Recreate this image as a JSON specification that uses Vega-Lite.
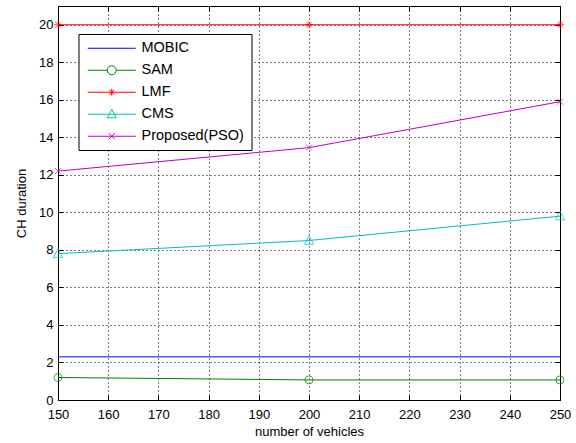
{
  "$schema": "https://vega.github.io/schema/vega-lite/v6.json",
  "width": 502,
  "height": 394,
  "autosize": {"type": "none"},
  "padding": {"left": 58, "top": 6, "right": 16, "bottom": 43},
  "background": "white",
  "config": {
    "view": {"stroke": "black", "strokeWidth": 1},
    "font": "Liberation Sans",
    "axis": {
      "labelFont": "Liberation Sans",
      "titleFont": "Liberation Sans",
      "labelFontSize": 13,
      "titleFontSize": 13,
      "labelColor": "black",
      "titleColor": "black",
      "titleFontWeight": "normal",
      "domainColor": "black",
      "tickColor": "black",
      "gridColor": "black",
      "gridDash": [1, 3],
      "gridOpacity": 1,
      "gridWidth": 1
    },
    "legend": {
      "labelFont": "Liberation Sans",
      "labelFontSize": 14.5,
      "labelColor": "black",
      "labelLimit": 300
    }
  },
  "data": {
    "values": [
      {"series": "MOBIC", "x": 150, "y": 2.3},
      {"series": "MOBIC", "x": 200, "y": 2.3},
      {"series": "MOBIC", "x": 250, "y": 2.3},
      {"series": "SAM", "x": 150, "y": 1.2},
      {"series": "SAM", "x": 200, "y": 1.07},
      {"series": "SAM", "x": 250, "y": 1.07},
      {"series": "LMF", "x": 150, "y": 20},
      {"series": "LMF", "x": 200, "y": 20},
      {"series": "LMF", "x": 250, "y": 20},
      {"series": "CMS", "x": 150, "y": 7.8},
      {"series": "CMS", "x": 200, "y": 8.5},
      {"series": "CMS", "x": 250, "y": 9.8},
      {"series": "Proposed(PSO)", "x": 150, "y": 12.2},
      {"series": "Proposed(PSO)", "x": 200, "y": 13.45},
      {"series": "Proposed(PSO)", "x": 250, "y": 15.9}
    ]
  },
  "resolve": {"axis": {"x": "independent", "y": "independent"}},
  "layer": [
    {
      "transform": [{"filter": "datum.series === 'MOBIC'"}],
      "mark": {"type": "line", "strokeWidth": 1, "stroke": "#0000ff"},
      "encoding": {
        "x": {
          "field": "x", "type": "quantitative",
          "scale": {"domain": [150, 250], "nice": false, "zero": false},
          "axis": {
            "orient": "bottom",
            "title": "number of vehicles",
            "values": [150, 160, 170, 180, 190, 200, 210, 220, 230, 240, 250],
            "tickSize": -5,
            "labelPadding": 13,
            "titlePadding": 4,
            "grid": true,
            "labelFlush": false
          }
        },
        "y": {
          "field": "y", "type": "quantitative",
          "scale": {"domain": [0, 21], "nice": false, "zero": true},
          "axis": {
            "orient": "left",
            "title": "CH duration",
            "values": [0, 2, 4, 6, 8, 10, 12, 14, 16, 18, 20],
            "tickSize": -5,
            "labelPadding": 10,
            "titlePadding": 10,
            "grid": true
          }
        },
        "order": {"field": "x", "type": "quantitative"}
      }
    },
    {
      "transform": [{"filter": "datum.series === 'SAM'"}],
      "mark": {"type": "line", "strokeWidth": 1, "stroke": "#008000"},
      "encoding": {
        "x": {"field": "x", "type": "quantitative", "axis": {"orient": "top", "labels": false, "title": null, "grid": false, "tickSize": -5, "values": [150, 160, 170, 180, 190, 200, 210, 220, 230, 240, 250]}},
        "y": {"field": "y", "type": "quantitative", "axis": {"orient": "right", "labels": false, "title": null, "grid": false, "tickSize": -5, "values": [0, 2, 4, 6, 8, 10, 12, 14, 16, 18, 20]}},
        "order": {"field": "x", "type": "quantitative"}
      }
    },
    {
      "transform": [{"filter": "datum.series === 'LMF'"}],
      "mark": {"type": "line", "strokeWidth": 1, "stroke": "#ff0000"},
      "encoding": {
        "x": {"field": "x", "type": "quantitative", "axis": null},
        "y": {"field": "y", "type": "quantitative", "axis": null},
        "order": {"field": "x", "type": "quantitative"}
      }
    },
    {
      "transform": [{"filter": "datum.series === 'CMS'"}],
      "mark": {"type": "line", "strokeWidth": 1, "stroke": "#00bfbf"},
      "encoding": {
        "x": {"field": "x", "type": "quantitative", "axis": null},
        "y": {"field": "y", "type": "quantitative", "axis": null},
        "order": {"field": "x", "type": "quantitative"}
      }
    },
    {
      "transform": [{"filter": "datum.series === 'Proposed(PSO)'"}],
      "mark": {"type": "line", "strokeWidth": 1, "stroke": "#bf00bf"},
      "encoding": {
        "x": {"field": "x", "type": "quantitative", "axis": null},
        "y": {"field": "y", "type": "quantitative", "axis": null},
        "order": {"field": "x", "type": "quantitative"}
      }
    },
    {
      "transform": [{"filter": "datum.series === 'SAM'"}],
      "mark": {"type": "point", "shape": "circle", "filled": false, "size": 64, "stroke": "#008000", "strokeWidth": 1},
      "encoding": {
        "x": {"field": "x", "type": "quantitative", "axis": null},
        "y": {"field": "y", "type": "quantitative", "axis": null}
      }
    },
    {
      "transform": [{"filter": "datum.series === 'LMF'"}],
      "mark": {"type": "point", "shape": "M0,-1V1M-1,0H1M-0.7,-0.7L0.7,0.7M-0.7,0.7L0.7,-0.7", "filled": false, "size": 64, "stroke": "#ff0000", "strokeWidth": 1},
      "encoding": {
        "x": {"field": "x", "type": "quantitative", "axis": null},
        "y": {"field": "y", "type": "quantitative", "axis": null}
      }
    },
    {
      "transform": [{"filter": "datum.series === 'CMS'"}],
      "mark": {"type": "point", "shape": "M0,-1L0.9,0.75H-0.9Z", "filled": false, "size": 100, "stroke": "#00bfbf", "strokeWidth": 1},
      "encoding": {
        "x": {"field": "x", "type": "quantitative", "axis": null},
        "y": {"field": "y", "type": "quantitative", "axis": null}
      }
    },
    {
      "transform": [{"filter": "datum.series === 'Proposed(PSO)'"}],
      "mark": {"type": "point", "shape": "M-1,-1L1,1M-1,1L1,-1", "filled": false, "size": 36, "stroke": "#bf00bf", "strokeWidth": 1},
      "encoding": {
        "x": {"field": "x", "type": "quantitative", "axis": null},
        "y": {"field": "y", "type": "quantitative", "axis": null}
      }
    },
    {
      "mark": {"type": "point", "filled": false, "size": 100, "strokeWidth": 1, "opacity": 0},
      "encoding": {
        "x": {"field": "x", "type": "quantitative", "axis": null},
        "y": {"field": "y", "type": "quantitative", "axis": null},
        "color": {
          "field": "series", "type": "nominal",
          "scale": {
            "domain": ["MOBIC", "SAM", "LMF", "CMS", "Proposed(PSO)"],
            "range": ["#0000ff", "#008000", "#ff0000", "#00bfbf", "#bf00bf"]
          },
          "legend": {
            "title": null,
            "orient": "none",
            "legendX": 20.5,
            "legendY": 28,
            "strokeColor": "black",
            "fillColor": "white",
            "padding": 7,
            "rowPadding": 7,
            "labelOffset": 41.5,
            "symbolSize": 100,
            "symbolStrokeWidth": 1,
            "symbolOpacity": 1
          }
        },
        "shape": {
          "field": "series", "type": "nominal",
          "scale": {
            "domain": ["MOBIC", "SAM", "LMF", "CMS", "Proposed(PSO)"],
            "range": [
              "M-1,0H8.6",
              "M-1,0H2.9M4.7,0H8.6M2.9,0A0.9,0.9 0 1 0 4.7,0A0.9,0.9 0 1 0 2.9,0",
              "M-1,0H8.6M3.8,-0.7V0.7M3.3,-0.5L4.3,0.5M3.3,0.5L4.3,-0.5",
              "M-1,0H8.6M3.8,-1L4.7,0.7H2.9Z",
              "M-1,0H8.6M3.2,-0.6L4.4,0.6M3.2,0.6L4.4,-0.6"
            ]
          }
        }
      }
    }
  ]
}
